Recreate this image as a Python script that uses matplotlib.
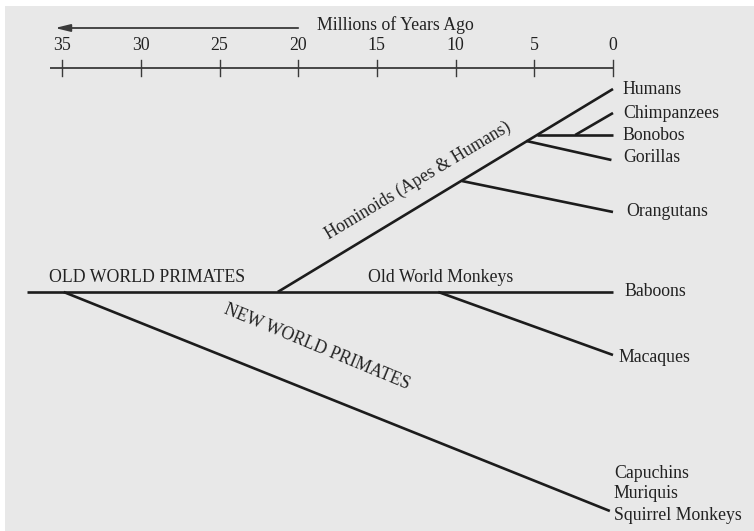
import matplotlib
matplotlib.use("Agg")
import matplotlib.pyplot as plt
from matplotlib.patches import Rectangle

plt.rcParams["font.family"] = ["Liberation Serif", "DejaVu Serif"]

# time axis (millions of years ago)
ticks = [35, 30, 25, 20, 15, 10, 5, 0]

# branches: (start mya, start y, end mya, end y) -- y is vertical position on the page
branches = {
    "root": (37.2, 292, 0.0, 292),
    "new_world": (34.9, 292, 0.2, 511),
    "hominoid": (21.3, 292, 0.0, 89),
    "macaque": (11.1, 292, 0.0, 355),
    "orangutan": (9.6, 181, 0.0, 212),
    "gorilla": (5.5, 141, 0.1, 160),
    "bonobo": (4.8, 135, 0.0, 135),
    "chimp": (2.4, 135, 0.0, 113),
}

# tip labels: (name, mya, y)
tip_names = ["Humans", "Chimpanzees", "Bonobos", "Gorillas", "Orangutans",
             "Baboons", "Macaques", "Capuchins", "Muriquis", "Squirrel Monkeys"]
tip_x = [-0.62, -0.62, -0.62, -0.62, -0.83, -0.76, -0.38, -0.06, -0.06, -0.06]
tip_y = [90, 113, 135, 158, 212, 292, 358, 473, 493, 516]

# pixel mapping: px = 613 - 15.74 * mya
scale = 15.74
x0 = 613

fig = plt.figure(figsize=(7.54, 5.31), dpi=100)
fig.patch.set_facecolor("white")
fig.patches.append(Rectangle((5 / 754, 0), 1, 1 - 6 / 531, transform=fig.transFigure,
                             facecolor="#e8e8e8", edgecolor="none", zorder=-10))
ax = fig.add_axes([0, 0, 1, 1])
ax.set_zorder(5)
ax.set_facecolor("none")
ax.set_xlim(x0 / scale, (x0 - 754) / scale)
ax.set_ylim(531, 0)
ax.axis("off")

ink = "#1c1c1c"
txt = "#222222"
fs = 12.8

# time axis
ax.plot([35.8, 0], [68, 68], color="#3a3a3a", lw=1.3, solid_capstyle="butt")
for t in ticks:
    ax.plot([t, t], [60, 76], color="#3a3a3a", lw=1.0)
    ax.text(t, 46, str(t), ha="center", va="center", fontsize=fs, color=txt)

ax.annotate("", xy=(35.45, 28), xytext=(20.0, 28),
            arrowprops=dict(arrowstyle="-|>,head_length=0.9,head_width=0.22",
                            color="#3a3a3a", lw=1.3, shrinkA=0, shrinkB=0))
ax.text(18.8, 25, "Millions of Years Ago", ha="left", va="center",
        fontsize=fs, color=txt)

# tree
for x1, y1, x2, y2 in branches.values():
    ax.plot([x1, x2], [y1, y2], color=ink, lw=1.9, solid_capstyle="butt")

for name, tx, ty in zip(tip_names, tip_x, tip_y):
    ax.text(tx, ty, name, ha="left", va="center", fontsize=fs, color=txt)

# clade labels
ax.text(35.83, 277, "OLD WORLD PRIMATES", ha="left", va="center", fontsize=fs, color=txt)
ax.text(6.35, 277, "Old World Monkeys", ha="right", va="center", fontsize=fs, color=txt)
ax.text(12.4, 181, "Hominoids (Apes & Humans)", ha="center", va="center",
        rotation=31, rotation_mode="anchor", fontsize=fs, color=txt)
ax.text(18.8, 347, "NEW WORLD PRIMATES", ha="center", va="center",
        rotation=-22.5, rotation_mode="anchor", fontsize=fs, color=txt)

fig.savefig("out.png", dpi=100, facecolor=fig.get_facecolor())
